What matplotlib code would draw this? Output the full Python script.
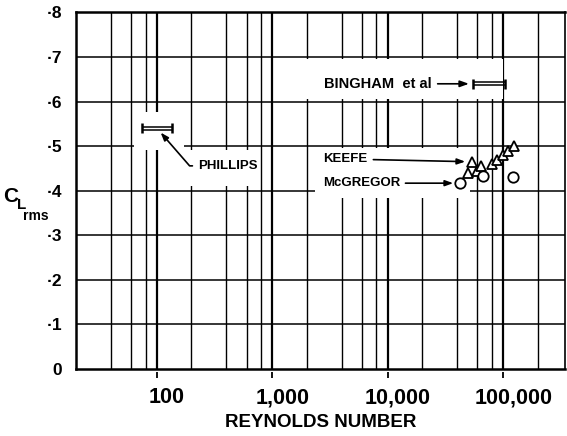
import numpy as np
import matplotlib
matplotlib.use("Agg")
import matplotlib.pyplot as plt
from matplotlib.patches import Rectangle
from matplotlib import transforms

# ---- data -------------------------------------------------------------
y_ticks = [0.0, 0.1, 0.2, 0.3, 0.4, 0.5, 0.6, 0.7, 0.8]
y_tick_labels = ["0", "·1", "·2", "·3", "·4", "·5", "·6", "·7", "·8"]
x_ticks = [100, 1000, 10000, 100000]
x_tick_labels = ["100", "1,000", "10,000", "100,000"]

# range bars (Reynolds number span, C_L rms)
phillips_re = [75, 135]
phillips_cl = 0.54
bingham_re = [55000, 104000]
bingham_cl = 0.64

# Keefe (triangles)
keefe_re = [54000, 50000, 59000, 64000, 80000, 88000, 100000, 110000, 125000]
keefe_cl = [0.465, 0.44, 0.445, 0.455, 0.46, 0.47, 0.48, 0.49, 0.50]
# McGregor (circles)
mcgregor_re = [42500, 67000, 122000]
mcgregor_cl = [0.417, 0.432, 0.43]

FONT = "Liberation Sans"
W, H = 567, 436

fig = plt.figure(figsize=(W / 100, H / 100), dpi=100)
ax = fig.add_axes([76 / W, (H - 369) / H, (565 - 76) / W, (369 - 12.5) / H])
ax.set_xscale("log")
ax.set_xlim(20, 3.44e5)
ax.set_ylim(0, 0.8)

# ---- grid ---------------------------------------------------------------
minor = [m * 10 ** d for d in range(1, 6) for m in (2, 4, 6, 8)]
minor = [v for v in minor if 20 < v < 3.44e5]
for v in minor:
    ax.axvline(v, color="black", lw=1.0, zorder=0.5)
for v in x_ticks:
    ax.axvline(v, color="black", lw=1.6, zorder=0.5)
for v in y_ticks[1:-1]:
    ax.axhline(v, color="black", lw=1.1, zorder=0.5)

# blank areas that keep the grid clear behind the labels
def blank(x0, x1, y0, y1):
    ax.add_patch(Rectangle((x0, y0), x1 - x0, y1 - y0, facecolor="white",
                           edgecolor="none", zorder=1))

blank(1800, 1.0e5, 0.605, 0.695)
blank(2370, 51900, 0.384, 0.496)
blank(63, 171, 0.491, 0.577)
blank(171, 731, 0.411, 0.491)

# ---- spines / ticks -----------------------------------------------------
for s in ("left", "bottom", "top", "right"):
    ax.spines[s].set_linewidth(1.8)
ax.spines["right"].set_linewidth(1.2)

ax.set_xticks(x_ticks)
ax.set_xticklabels(x_tick_labels)
ax.xaxis.set_minor_locator(matplotlib.ticker.NullLocator())
ax.set_yticks(y_ticks)
ax.set_yticklabels(y_tick_labels)
ax.tick_params(axis="x", length=0, pad=13, labelsize=15.5)
ax.tick_params(axis="y", length=0, pad=10, labelsize=12.5)
shift = transforms.ScaledTranslation(7.5 / 72, 0, fig.dpi_scale_trans)
for lab in ax.get_xticklabels():
    lab.set_transform(lab.get_transform() + shift)
for lab in ax.get_xticklabels() + ax.get_yticklabels():
    lab.set_fontfamily(FONT)
    lab.set_fontweight("bold")

# small tick marks set off below the axis
tick_tr = transforms.blended_transform_factory(ax.transData, ax.transAxes)
ax.plot(x_ticks, [-0.017] * len(x_ticks), linestyle="none", marker="|",
        markersize=5, mew=1.3, color="black", transform=tick_tr, clip_on=False)

ax.set_xlabel("REYNOLDS NUMBER", fontfamily=FONT, fontweight="bold",
              fontsize=13.5, labelpad=4)

# C_L rms label
fig.text(11 / W, 1 - 196 / H, "C", fontfamily=FONT, fontweight="bold",
         fontsize=15, ha="center", va="center")
fig.text(21.5 / W, 1 - 205 / H, "L", fontfamily=FONT, fontweight="bold",
         fontsize=11, ha="center", va="center")
fig.text(36 / W, 1 - 216 / H, "rms", fontfamily=FONT, fontweight="bold",
         fontsize=10, ha="center", va="center")

# ---- range bars (double line with end caps) ------------------------------
def range_bar(lo, hi, y):
    for dy in (-1.2, 1.2):
        tr = transforms.offset_copy(ax.transData, fig=fig, x=0, y=dy, units="points")
        ax.plot([lo, hi], [y, y], color="black", lw=1.1, transform=tr,
                solid_capstyle="butt", zorder=3)
    ax.plot([lo, hi], [y, y], linestyle="none", marker="|", markersize=7.5,
            mew=1.8, color="black", zorder=3)

range_bar(phillips_re[0], phillips_re[1], phillips_cl)
range_bar(bingham_re[0], bingham_re[1], bingham_cl)

# ---- data points -------------------------------------------------------
ax.plot(keefe_re, keefe_cl, linestyle="none", marker="^", markersize=7.5,
        mfc="white", mec="black", mew=1.3, zorder=4)
ax.plot(mcgregor_re, mcgregor_cl, linestyle="none", marker="o", markersize=7.5,
        mfc="white", mec="black", mew=1.3, zorder=4)

# ---- labels with arrows ------------------------------------------------
arrow = dict(arrowstyle="-|>,head_length=0.5,head_width=0.18", color="black",
             lw=1.2, shrinkA=2, shrinkB=4)
txt = dict(fontfamily=FONT, fontweight="bold", fontsize=9.5, zorder=5)

ax.annotate("PHILLIPS", xy=(np.sqrt(phillips_re[0] * phillips_re[1]), phillips_cl),
            xytext=(29.5, -27), textcoords="offset points", ha="left", va="center",
            arrowprops=dict(arrow, connectionstyle="angle,angleA=0,angleB=-49,rad=0"),
            **txt)
ax.annotate("BINGHAM  et al", xy=(bingham_re[0], bingham_cl),
            xytext=(-29.5, 0), textcoords="offset points", ha="right", va="center",
            arrowprops=dict(arrow, shrinkB=3), fontfamily=FONT, fontweight="bold",
            fontsize=10.5, zorder=5)
ax.annotate("KEEFE", xy=(keefe_re[0], keefe_cl[0]),
            xytext=(-107, 2), textcoords="offset points", ha="left", va="center",
            arrowprops=dict(arrow, shrinkB=5), **txt)
ax.annotate("McGREGOR", xy=(mcgregor_re[0], mcgregor_cl[0]),
            xytext=(-99, 0), textcoords="offset points", ha="left", va="center",
            arrowprops=dict(arrow, shrinkB=5), **txt)

fig.savefig("out.png", dpi=100)
